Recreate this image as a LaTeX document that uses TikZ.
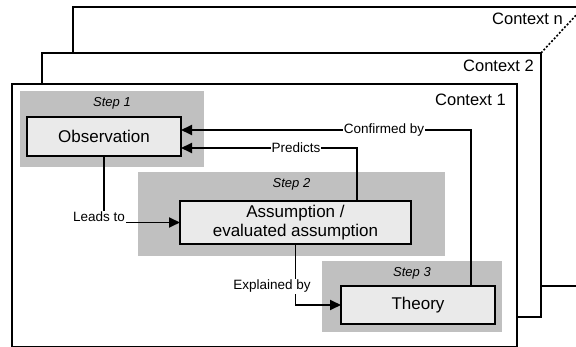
\documentclass[tikz,border=0pt]{standalone}
\usepackage{fontspec}
\setmainfont{Liberation Sans}
\usetikzlibrary{arrows.meta}
\definecolor{stepgray}{HTML}{C0C0C0}
\definecolor{boxgray}{HTML}{EAEAEA}
\begin{document}
\begin{tikzpicture}[x=1pt,y=-1pt,
  frame/.style={draw=black, fill=white, line width=1.8pt, rectangle, anchor=north west, inner sep=0pt, outer sep=0pt},
  ctxlabel/.style={anchor=base east, inner sep=0pt, font=\fontsize{16.5}{19}\selectfont},
  stepbox/.style={fill=stepgray, rectangle, inner sep=0pt, outer sep=0pt},
  steplabel/.style={anchor=base, inner sep=0pt, font=\fontsize{13}{15}\selectfont\itshape},
  phase/.style={draw=black, fill=boxgray, line width=2pt, rectangle, inner sep=0pt, outer sep=0pt, align=center, font=\fontsize{17}{19.5}\selectfont},
  conn/.style={line width=1.8pt, -{Triangle[length=11pt,width=10pt]}},
  elabel/.style={fill=white, inner sep=1pt, font=\fontsize{13.5}{15}\selectfont},
]
\useasboundingbox (0,0) rectangle (576,347);
\fill[white] (0,0) rectangle (576,347);
\clip (0,0) rectangle (576,347);

% stacked context frames, back to front
\node[frame, minimum width=547pt, minimum height=279pt] (ctxn) at (73,7) {};
\node[frame, minimum width=499pt, minimum height=264pt] (ctx2) at (42,53) {};
\coordinate (vp) at (579,12);
\draw[line width=1.6pt, dash pattern=on 2pt off 1.8pt] (ctx2.north east) -- (vp);
\node[frame, minimum width=505pt, minimum height=262.8pt] (ctx1) at (12,84) {};

\node[ctxlabel] (lbln) at (563,25) {Context n};
\node[ctxlabel] (lbl2) at (534,72) {Context 2};
\node[ctxlabel] (lbl1) at (506,106) {Context 1};

% step backgrounds
\node[stepbox, minimum width=184pt, minimum height=76pt] (step1) at (112,129) {};
\node[stepbox, minimum width=307pt, minimum height=84pt] (step2) at (291.5,214) {};
\node[stepbox, minimum width=180pt, minimum height=71pt] (step3) at (412,296.5) {};
\node[steplabel] (s1lbl) at (112,107) {Step 1};
\node[steplabel] (s2lbl) at (291.5,188) {Step 2};
\node[steplabel] (s3lbl) at (412,277) {Step 3};

% phases
\node[phase, minimum width=154pt, minimum height=39pt] (obs) at (104,136.5) {Observation};
\node[phase, minimum width=231pt, minimum height=43pt] (assum) at (295.5,222.5) {Assumption /\\evaluated assumption};
\node[phase, minimum width=154pt, minimum height=38pt] (theory) at (418,305) {Theory};

% relations
\draw[conn] ([xshift=53pt]theory.north) |- node[elabel, pos=0.65] (conf) {Confirmed by} ([yshift=6.5pt]obs.east);
\draw[conn] ([xshift=61.5pt]assum.north) |- node[elabel, pos=0.673] (pred) {Predicts} ([yshift=-11.5pt]obs.east);
\draw[conn] (obs.south) |- (assum.west);
\node[elabel, anchor=base east, text depth=3pt] (leads) at (126,222) {Leads to};
\draw[conn] (assum.south) |- (theory.west);
\node[elabel, anchor=base] (expl) at (272,290) {Explained by};
\end{tikzpicture}
\end{document}
